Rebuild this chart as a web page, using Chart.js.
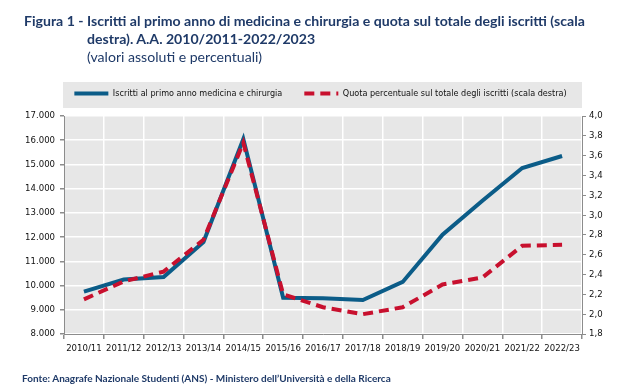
<!DOCTYPE html>
<html><head><meta charset="utf-8">
<script src="https://cdn.jsdelivr.net/npm/chart.js@4"></script>
<style>
html,body{margin:0;padding:0;background:#fff;width:617px;height:392px;overflow:hidden;}
#wrap{position:absolute;left:0;top:0;width:617px;height:392px;}
.t{position:absolute;font-family:Lato,"Open Sans",sans-serif;color:#1F3A68;white-space:nowrap;}
#t1{left:24px;top:12px;font-weight:bold;font-size:14.1px;line-height:18px;}
#t2{left:87px;top:12px;font-weight:bold;font-size:14.1px;line-height:18px;}
#t3{left:87px;top:48px;font-size:14.1px;line-height:18px;}
#src{left:22px;top:372px;font-weight:bold;font-size:10px;}
</style></head>
<body>
<div id="wrap"><canvas id="c" width="617" height="392"></canvas></div>
<div class="t" id="t1">Figura 1 -</div>
<div class="t" id="t2">Iscritti al primo anno di medicina e chirurgia e quota sul totale degli iscritti (scala<br>destra). A.A. 2010/2011-2022/2023</div>
<div class="t" id="t3">(valori assoluti e percentuali)</div>
<div class="t" id="src">Fonte: Anagrafe Nazionale Studenti (ANS) - Ministero dell’Università e della Ricerca</div>
<script>
const categories = ["2010/11","2011/12","2012/13","2013/14","2014/15","2015/16","2016/17","2017/18","2018/19","2019/20","2020/21","2021/22","2022/23"];
const iscritti = [9750, 10250, 10350, 11800, 16050, 9500, 9480, 9400, 10150, 12100, 13500, 14850, 15350];
const quota = [2.15, 2.33, 2.43, 2.75, 3.73, 2.20, 2.07, 2.00, 2.07, 2.30, 2.37, 2.69, 2.70];
const seriesNames = ["Iscritti al primo anno medicina e chirurgia", "Quota percentuale sul totale degli iscritti (scala destra)"];

const FONT = "'DejaVu Sans Condensed','Liberation Sans',Arial,sans-serif";
const BLUE = "#0B5C88", RED = "#C8102E";

const bgPlugin = {
  id: 'bg',
  beforeLayout(chart) {
    const lg = chart.legend;
    if (lg && !lg._wrapped) {
      const f = lg.fit;
      lg.fit = function() { f.call(this); this.height = 49; };
      lg._wrapped = true;
    }
  },
  beforeDraw(chart) {
    const {ctx, chartArea: a} = chart;
    ctx.save();
    ctx.fillStyle = '#E7E7E7';
    ctx.fillRect(a.left, a.top, a.right - a.left, a.bottom - a.top);
    ctx.fillRect(a.left - 1, 82, a.right - a.left + 1, 26);
    ctx.restore();
  }
};

new Chart(document.getElementById('c'), {
  type: 'line',
  data: {
    labels: categories,
    datasets: [
      {label: seriesNames[0], data: iscritti, yAxisID: 'y', borderColor: BLUE, backgroundColor: BLUE,
       borderWidth: 4, pointRadius: 0, tension: 0, borderJoinStyle: 'miter', order: 2},
      {label: seriesNames[1], data: quota, yAxisID: 'y1', borderColor: RED, backgroundColor: RED,
       borderWidth: 4, borderDash: [10, 6], borderCapStyle: 'butt', pointRadius: 0, tension: 0, order: 1}
    ]
  },
  options: {
    responsive: false, animation: false,
    layout: {padding: {left: 24, right: 0, top: 67, bottom: 0}},
    plugins: {
      legend: {
        display: true, position: 'top',
        labels: {
          font: {family: FONT, size: 9}, color: '#111',
          usePointStyle: true, pointStyleWidth: 34, padding: 22,
          generateLabels(chart) {
            return chart.data.datasets.map((d, i) => ({
              text: d.label, fillStyle: d.borderColor, strokeStyle: d.borderColor,
              lineWidth: 4, lineDash: d.borderDash || [], lineCap: 'butt',
              pointStyle: 'line', datasetIndex: i, hidden: false, fontColor: '#111'
            }));
          }
        }
      },
      tooltip: {enabled: false}
    },
    scales: {
      x: {
        type: 'category', offset: true,
        grid: {offset: true, color: '#FFFFFF', lineWidth: 1.5, tickColor: '#8C8C8C', tickLength: 5, drawTicks: true},
        border: {color: '#8C8C8C', width: 1},
        ticks: {font: {family: FONT, size: 9.5}, color: '#111', maxRotation: 0, autoSkip: false, padding: 4},
        afterFit(s) { s.height = 58; }
      },
      y: {
        position: 'left', min: 8000, max: 17000,
        ticks: {stepSize: 1000, font: {family: FONT, size: 9.5}, color: '#111', padding: 5, autoSkip: false,
          callback: v => String(v).replace(/\B(?=(\d{3})+(?!\d))/g, '.') },
        grid: {color: '#FFFFFF', lineWidth: 1.5, tickColor: '#8C8C8C', tickLength: 4},
        border: {color: '#8C8C8C', width: 1},
        afterFit(s) { s.width = 40; }
      },
      y1: {
        position: 'right', min: 1.8, max: 4.0,
        ticks: {stepSize: 0.2, font: {family: FONT, size: 9.5}, color: '#111', padding: 3, autoSkip: false,
          callback: v => Number(v).toFixed(1).replace('.', ',') },
        grid: {drawOnChartArea: false, tickColor: '#8C8C8C', tickLength: 4},
        border: {color: '#8C8C8C', width: 1},
        afterFit(s) { s.width = 35; }
      }
    }
  },
  plugins: [bgPlugin]
});
</script>
</body></html>
